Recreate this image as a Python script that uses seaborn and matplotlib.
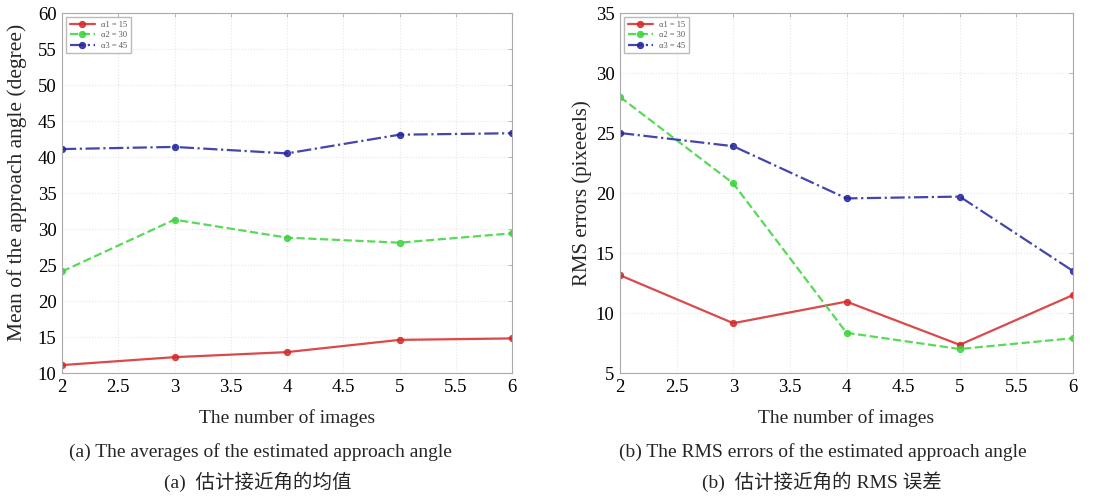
import pandas as pd
import matplotlib.pyplot as plt
import seaborn as sns

# data
images = [2, 3, 4, 5, 6]
labels = ['α1 = 15', 'α2 = 30', 'α3 = 45']

mean_a1 = [11.1, 12.2, 12.9, 14.6, 14.8]
mean_a2 = [24.1, 31.3, 28.8, 28.1, 29.4]
mean_a3 = [41.1, 41.4, 40.5, 43.1, 43.3]

rms_a1 = [13.15, 9.15, 10.95, 7.35, 11.5]
rms_a2 = [28.0, 20.8, 8.35, 7.0, 7.9]
rms_a3 = [25.0, 23.9, 19.55, 19.7, 13.5]

colors = ['#d42a2a', '#3ad43a', '#2424a0']
dashes = ['-', '--', '-.']

sns.set_style('white')
plt.rcParams['font.family'] = ['Liberation Serif', 'DejaVu Sans']

fig = plt.figure(figsize=(11.11, 4.96), dpi=100)
ax1 = fig.add_axes([62 / 1111, 1 - 373 / 496, 450 / 1111, 360 / 496])
ax2 = fig.add_axes([620 / 1111, 1 - 373 / 496, 453 / 1111, 360 / 496])


def draw(ax, series, ylim, yticks, ylabel, ylsize, ylx, yly):
    for vals, lab, c, ls in zip(series, labels, colors, dashes):
        df = pd.DataFrame({'x': images, 'y': vals})
        sns.lineplot(data=df, x='x', y='y', ax=ax, color=c, linestyle=ls,
                     marker='o', markersize=4.5, linewidth=1.6, alpha=0.85,
                     markeredgecolor=c, label=lab)
    ax.set_xlim(2, 6)
    ax.set_ylim(*ylim)
    ax.set_yticks(yticks)
    ax.set_xticks([2, 2.5, 3, 3.5, 4, 4.5, 5, 5.5, 6])
    ax.set_xticklabels(['2', '2.5', '3', '3.5', '4', '4.5', '5', '5.5', '6'])
    ax.tick_params(labelsize=13.5, direction='in', length=3, top=True, right=True,
                   colors='#bbbbbb', labelcolor='black', pad=4)
    ax.grid(True, color='#e6e6e6', linestyle=':', linewidth=0.8)
    for s in ax.spines.values():
        s.set_color('#aaaaaa')
        s.set_linewidth(0.8)
    ax.set_xlabel('The number of images', fontsize=14, labelpad=10)
    ax.set_ylabel(ylabel, fontsize=ylsize)
    ax.yaxis.set_label_coords(ylx, yly)
    leg = ax.legend(loc='upper left', fontsize=6, frameon=True, fancybox=False,
                    edgecolor='#aaaaaa', handlelength=3, borderpad=0.4,
                    labelspacing=0.3)
    for t in leg.get_texts():
        t.set_color('#555555')


draw(ax1, [mean_a1, mean_a2, mean_a3], (10, 60), range(10, 61, 5),
     'Mean of the approach angle (degree)', 15.5, -0.078, 0.53)
draw(ax2, [rms_a1, rms_a2, rms_a3], (5, 35), range(5, 36, 5),
     'RMS errors (pixeeels)', 15, -0.062, 0.5)

cap_font = ['Liberation Serif', 'Noto Sans CJK SC']
fig.text(260 / 1111, 1 - 452 / 496, '(a) The averages of the estimated approach angle',
         ha='center', va='center', fontsize=14, family=cap_font)
fig.text(258 / 1111, 1 - 482 / 496, '(a)  估计接近角的均值',
         ha='center', va='center', fontsize=14, family=cap_font)
fig.text(823 / 1111, 1 - 452 / 496, '(b) The RMS errors of the estimated approach angle',
         ha='center', va='center', fontsize=14, family=cap_font)
fig.text(822 / 1111, 1 - 482 / 496, '(b)  估计接近角的 RMS 误差',
         ha='center', va='center', fontsize=14, family=cap_font)

fig.savefig('out.png', dpi=100)
